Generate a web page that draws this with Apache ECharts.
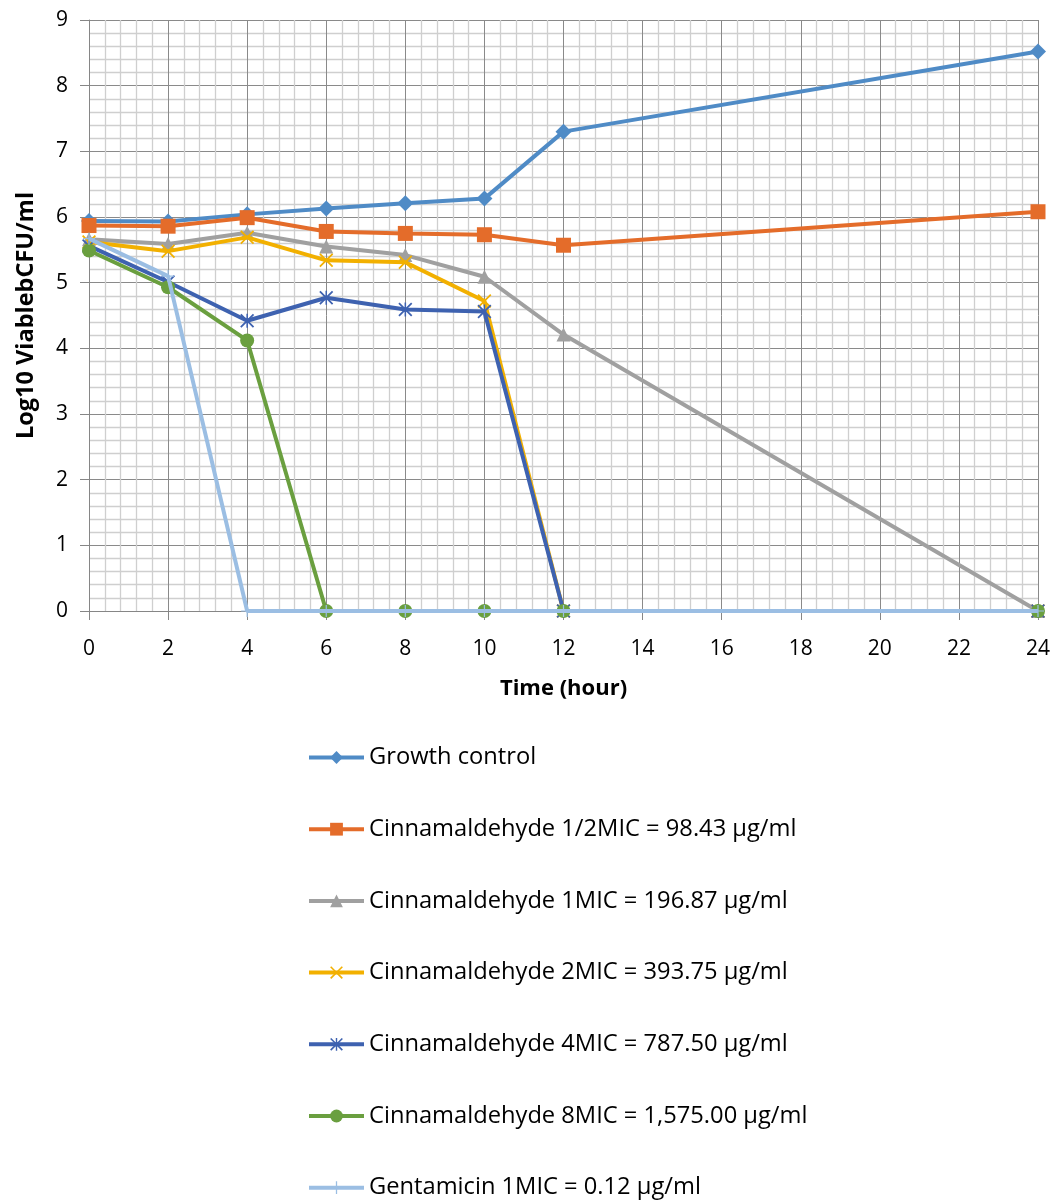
<!DOCTYPE html>
<html>
<head>
<meta charset="utf-8">
<style>
  html, body { margin: 0; padding: 0; background: #fff; }
  #chart { width: 1059px; height: 1201px; }
</style>
<script src="https://cdn.jsdelivr.net/npm/echarts@6/dist/echarts.min.js"></script>
</head>
<body>
<div id="chart"></div>
<script>
// Sampling times (hours)
const hours = [0, 2, 4, 6, 8, 10, 12, 24];

// Log10 viable CFU/ml for each treatment
const growthControl = [5.94, 5.93, 6.04, 6.13, 6.21, 6.28, 7.30, 8.52];
const cinnHalfMIC   = [5.87, 5.86, 5.99, 5.78, 5.75, 5.73, 5.57, 6.08];
const cinn1MIC      = [5.66, 5.59, 5.76, 5.55, 5.42, 5.09, 4.21, 0];
const cinn2MIC      = [5.62, 5.48, 5.69, 5.34, 5.31, 4.72, 0, 0];
const cinn4MIC      = [5.56, 5.01, 4.42, 4.77, 4.59, 4.56, 0, 0];
const cinn8MIC      = [5.49, 4.93, 4.12, 0, 0, 0, 0, 0];
const gentamicin1MIC = [5.67, 5.10, 0, 0, 0, 0, 0, 0];

const seriesNames = [
  'Growth control',
  'Cinnamaldehyde 1/2MIC = 98.43 µg/ml',
  'Cinnamaldehyde 1MIC = 196.87 µg/ml',
  'Cinnamaldehyde 2MIC = 393.75 µg/ml',
  'Cinnamaldehyde 4MIC = 787.50 µg/ml',
  'Cinnamaldehyde 8MIC = 1,575.00 µg/ml',
  'Gentamicin 1MIC = 0.12 µg/ml'
];

// Axis ranges: time 0..24 h every 2 h, log count 0..9
const xMin = 0, xMax = 24, xStep = 2;
const yMin = 0, yMax = 9, yStep = 1;

const FONT = '"Open Sans", "Liberation Sans", sans-serif';

// Marker shapes drawn as filled outlines
const crossPath = 'path://M0,0.9L0.9,0L5,4.1L9.1,0L10,0.9L5.9,5L10,9.1L9.1,10L5,5.9L0.9,10L0,9.1L4.1,5Z';
const starPath = 'path://M0,0.9L0.9,0L5,4.1L9.1,0L10,0.9L5.9,5L10,9.1L9.1,10L5,5.9L0.9,10L0,9.1L4.1,5Z M4.45,0L5.55,0L5.55,10L4.45,10Z';
const plusPath = 'path://M4.5,0L5.5,0L5.5,4.5L10,4.5L10,5.5L5.5,5.5L5.5,10L4.5,10L4.5,5.5L0,5.5L0,4.5L4.5,4.5Z';

const styles = [
  { data: growthControl, color: '#4F8BC6', symbol: 'diamond', size: 16 },
  { data: cinnHalfMIC, color: '#E46C2A', symbol: 'rect', size: 15 },
  { data: cinn1MIC, color: '#A0A0A0', symbol: 'triangle', size: 14 },
  { data: cinn2MIC, color: '#F2B000', symbol: crossPath, size: 14 },
  { data: cinn4MIC, color: '#3E62B0', symbol: starPath, size: 14 },
  { data: cinn8MIC, color: '#6A9F3F', symbol: 'circle', size: 14 },
  { data: gentamicin1MIC, color: '#9BBEE3', symbol: plusPath, size: 12 }
];

const gridLine = { color: '#8a8a8a', width: 1 };
const minorLine = { color: '#cfcfcf', width: 1.3 };

const chart = echarts.init(document.getElementById('chart'), null, { renderer: 'canvas' });

chart.setOption({
  animation: false,
  backgroundColor: '#ffffff',
  grid: { left: 89, right: 21, top: 20, bottom: 590, containLabel: false },
  xAxis: {
    type: 'value',
    min: xMin,
    max: xMax,
    interval: xStep,
    name: 'Time (hour)',
    nameLocation: 'middle',
    nameGap: 67,
    nameTextStyle: { fontFamily: FONT, fontWeight: 'bold', fontSize: 22, color: '#000' },
    axisLine: { show: true, onZero: false, lineStyle: { color: '#868686', width: 1 } },
    axisTick: { show: true, length: 9, lineStyle: { color: '#868686' } },
    axisLabel: { fontFamily: FONT, fontSize: 21, color: '#000', margin: 28 },
    splitLine: { show: true, lineStyle: gridLine },
    minorTick: { show: false, splitNumber: 5 },
    minorSplitLine: { show: true, lineStyle: minorLine }
  },
  yAxis: {
    type: 'value',
    min: yMin,
    max: yMax,
    interval: yStep,
    name: 'Log10 ViablebCFU/ml',
    nameLocation: 'middle',
    nameGap: 51,
    nameTextStyle: { fontFamily: FONT, fontWeight: 'bold', fontSize: 23.5, color: '#000' },
    axisLine: { show: true, lineStyle: { color: '#868686', width: 1 } },
    axisTick: { show: true, length: 9, lineStyle: { color: '#868686' } },
    axisLabel: { fontFamily: FONT, fontSize: 21, color: '#000', margin: 21 },
    splitLine: { show: true, lineStyle: gridLine },
    minorTick: { show: false, splitNumber: 5 },
    minorSplitLine: { show: true, lineStyle: minorLine }
  },
  legend: {
    orient: 'vertical',
    left: 307,
    top: 745.5,
    height: 455,
    padding: 0,
    itemWidth: 55,
    itemHeight: 16,
    itemGap: 47.7,
    lineStyle: { width: 4 },
    textStyle: { fontFamily: FONT, fontSize: 23.7, color: '#000', lineHeight: 24, padding: [0, 0, 0, 0] },
    data: seriesNames
  },
  series: styles.map((s, i) => ({
    name: seriesNames[i],
    type: 'line',
    data: hours.map((h, k) => [h, s.data[k]]),
    symbol: s.symbol,
    symbolSize: s.size,
    showAllSymbol: true,
    lineStyle: { color: s.color, width: 4 },
    itemStyle: { color: s.color },
    emphasis: { disabled: true },
    z: 10 + i
  }))
});
</script>
</body>
</html>
